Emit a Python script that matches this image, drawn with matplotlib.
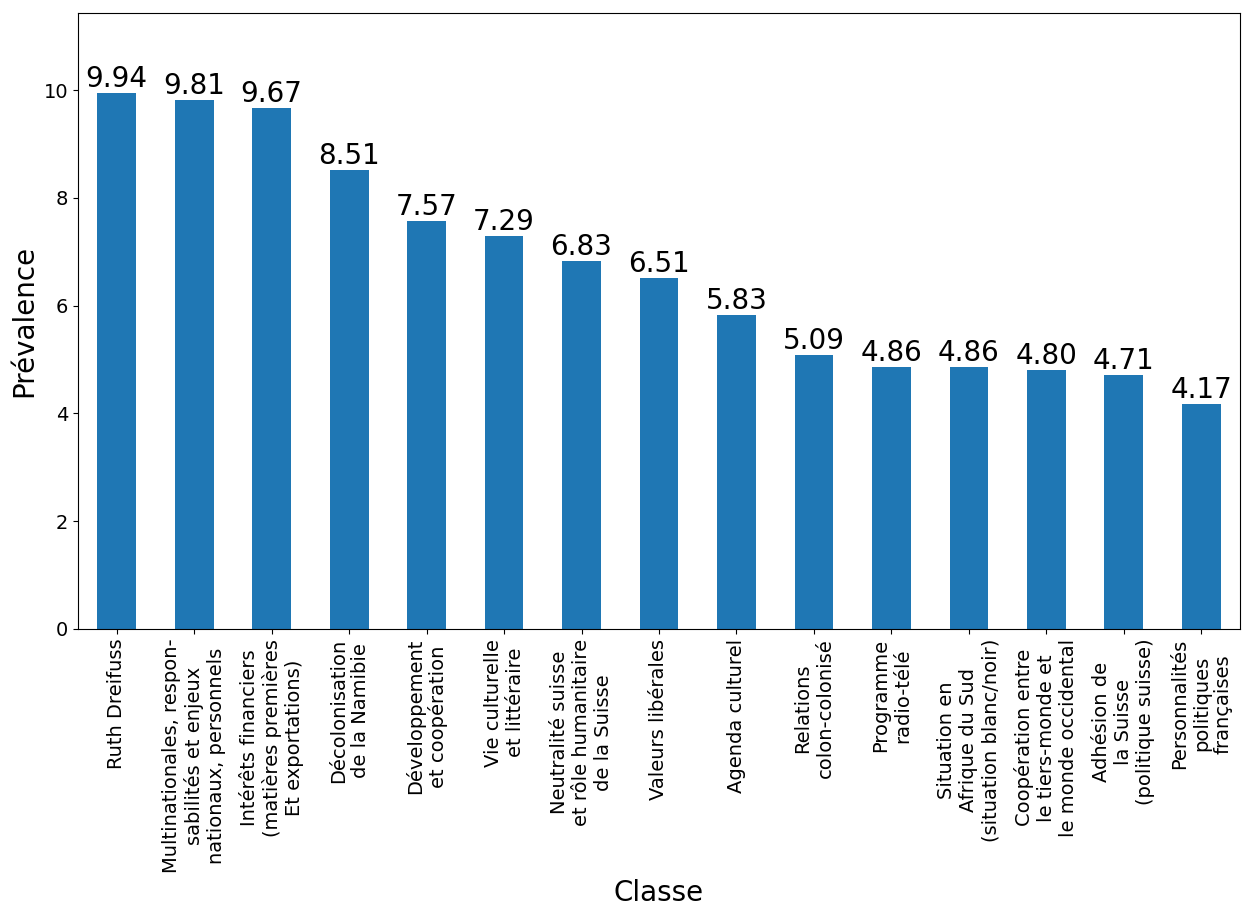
import matplotlib
matplotlib.use("Agg")
import matplotlib.pyplot as plt
import numpy as np

classes = [
    "Ruth Dreifuss",
    "Multinationales, respon-\nsabilités et enjeux\nnationaux, personnels",
    "Intérêts financiers\n(matières premières\nEt exportations)",
    "Décolonisation\nde la Namibie",
    "Développement\net coopération",
    "Vie culturelle\net littéraire",
    "Neutralité suisse\net rôle humanitaire\nde la Suisse",
    "Valeurs libérales",
    "Agenda culturel",
    "Relations\ncolon-colonisé",
    "Programme\nradio-télé",
    "Situation en\nAfrique du Sud\n(situation blanc/noir)",
    "Coopération entre\nle tiers-monde et\nle monde occidental",
    "Adhésion de\nla Suisse\n(politique suisse)",
    "Personnalités\npolitiques\nfrançaises",
]
prevalence = [9.94, 9.81, 9.67, 8.51, 7.57, 7.29, 6.83, 6.51, 5.83, 5.09,
              4.86, 4.86, 4.80, 4.71, 4.17]

fig = plt.figure(figsize=(12.53, 9.15), dpi=100)
ax = fig.add_axes([78/1253, 1-629/915, (1240-78)/1253, (629-13)/915])

x = np.arange(len(classes))
bars = ax.bar(x, prevalence, width=0.5, color="#1f77b4")
ax.set_xlim(-0.5, len(classes) - 0.5)
ax.set_ylim(0, max(prevalence) * 1.15)

for xi, v in zip(x, prevalence):
    ax.text(xi, v, "%.2f" % v, ha="center", va="bottom", fontsize=20)

ax.set_xticks(x)
ax.set_xticklabels(classes, rotation=90, fontsize=14)
ax.tick_params(axis="y", labelsize=14)
ax.set_xlabel("Classe", fontsize=20)
ax.set_ylabel("Prévalence", fontsize=20)

fig.savefig("out.png", dpi=100)
